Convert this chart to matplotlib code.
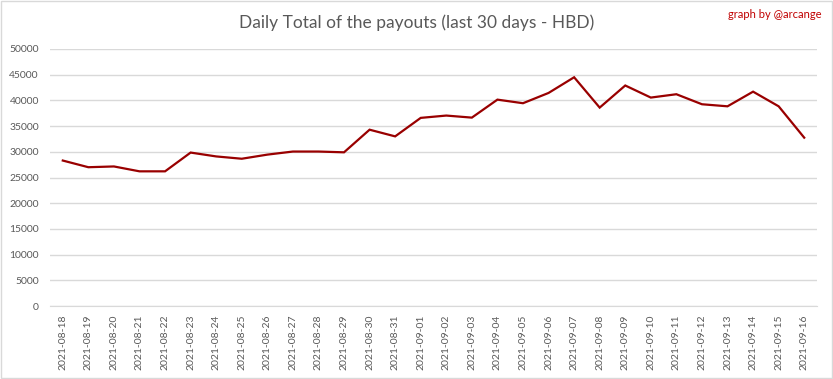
import matplotlib.pyplot as plt
from matplotlib.patches import Rectangle

dates = ['2021-08-18', '2021-08-19', '2021-08-20', '2021-08-21', '2021-08-22',
         '2021-08-23', '2021-08-24', '2021-08-25', '2021-08-26', '2021-08-27',
         '2021-08-28', '2021-08-29', '2021-08-30', '2021-08-31', '2021-09-01',
         '2021-09-02', '2021-09-03', '2021-09-04', '2021-09-05', '2021-09-06',
         '2021-09-07', '2021-09-08', '2021-09-09', '2021-09-10', '2021-09-11',
         '2021-09-12', '2021-09-13', '2021-09-14', '2021-09-15', '2021-09-16']
payouts = [28300, 27000, 27150, 26200, 26200,
           29850, 29100, 28650, 29450, 30050,
           30050, 29900, 34300, 33000, 36600,
           37050, 36650, 40150, 39450, 41450,
           44500, 38600, 42900, 40550, 41200,
           39250, 38850, 41700, 38850, 32750]
yticks = list(range(0, 50001, 5000))

plt.rcParams['font.family'] = ['Lato', 'DejaVu Sans']

fig = plt.figure(figsize=(8.33, 3.79), dpi=100)
ax = fig.add_axes([50 / 833, 1 - 306 / 379, 767 / 833, 257 / 379])

x = list(range(len(dates)))
ax.plot(x, payouts, color='#990000', lw=1.6, solid_joinstyle='miter')

ax.set_xlim(-0.5, len(dates) - 0.5)
ax.set_ylim(0, 50000)
ax.set_yticks(yticks)
ax.set_yticklabels([str(v) for v in yticks])
ax.set_xticks(x)
ax.set_xticklabels(dates, rotation=90)
ax.tick_params(length=0, labelsize=7.5, labelcolor='#595959')
ax.tick_params(axis='y', pad=8)
ax.tick_params(axis='x', pad=6)
ax.grid(axis='y', color='#D9D9D9', lw=1)
ax.set_axisbelow(True)
for s in ['top', 'right', 'left']:
    ax.spines[s].set_visible(False)
ax.spines['bottom'].set_color('#D9D9D9')

fig.text(0.5, 1 - 23 / 379, 'Daily Total of the payouts (last 30 days - HBD)',
         ha='center', va='center', fontsize=12.5, color='#595959')
fig.text(822 / 833, 1 - 15 / 379, 'graph by @arcange', ha='right', va='center',
         fontsize=8, color='#C00000')

fig.patches.append(Rectangle((1 / 833, 1 / 379), 831 / 833, 377 / 379,
                             transform=fig.transFigure, fill=False,
                             edgecolor='#D9D9D9', lw=1))

fig.savefig('out.png', dpi=100, facecolor='white')
